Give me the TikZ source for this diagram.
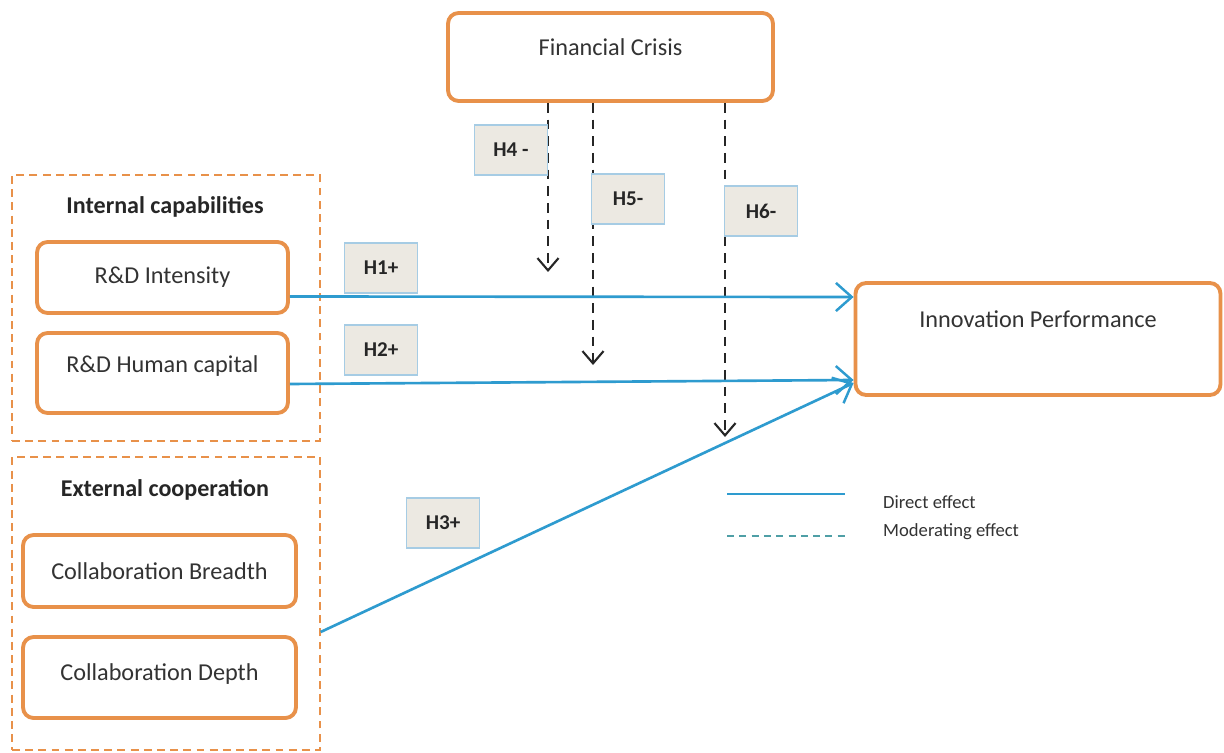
\documentclass[tikz,border=0pt]{standalone}
\usepackage{fontspec}
\setmainfont{Carlito}
\usetikzlibrary{arrows.meta,positioning}
\definecolor{boxorange}{HTML}{E8914A}
\definecolor{effblue}{HTML}{2E9BCF}
\definecolor{hgray}{HTML}{ECE9E2}
\definecolor{hblue}{HTML}{A6CCE4}
\definecolor{legteal}{HTML}{4F9FA6}
\tikzset{
    component/.style={
    rectangle,rounded corners=6pt,draw=boxorange,line width=2.2pt,
    font=\fontsize{13.8}{16}\selectfont,text=black!80
    },
    dcomponent/.style={
    rectangle,draw=boxorange,line width=0.8pt,dash pattern=on 4.5pt off 3pt
    },
    hbox/.style={
    rectangle,draw=hblue,fill=hgray,line width=0.8pt,
    minimum width=1.45cm,minimum height=1cm,font=\bfseries\fontsize{12}{14}\selectfont,text=black!85
    },
    heading/.style={
    font=\bfseries\fontsize{13.7}{16}\selectfont,text=black!85
    },
    direct/.style={
    draw=effblue,line width=1.5pt,-{Straight Barb[length=9pt,width=16pt,line width=1.4pt]}
    },
    moderate/.style={
    draw=black!85,line width=1.4pt,dash pattern=on 5.5pt off 4pt,
    -{Straight Barb[length=7pt,width=12pt,line width=1.2pt]}
    },
    legtext/.style={
    anchor=west,font=\fontsize{10.6}{12}\selectfont,text=black!80
    },
}
\begin{document}
\begin{tikzpicture}[x=0.02cm,y=-0.02cm]
   \useasboundingbox[fill=white] (0,0) rectangle (1224,753);

   % groups
   \node[dcomponent,minimum width=6.16cm,minimum height=5.32cm] (IC) at (166,308) {};
   \node[dcomponent,minimum width=6.16cm,minimum height=5.86cm] (EC) at (166,603.5) {};
   \node[heading] (ICt) at (165,207) {Internal capabilities};
   \node[heading] (ECt) at (165,490) {External cooperation};

   % constructs
   \node[component,minimum width=5.02cm,minimum height=1.42cm] (RDI) at (162.5,277.5) {R\&D Intensity};
   \node[component,minimum width=5.02cm,minimum height=1.6cm,text depth=0.35cm] (RDH) at (162.5,373) {R\&D Human capital};
   \node[component,minimum width=5.46cm,minimum height=1.44cm] (CB) at (159.5,571) {Collaboration Breadth};
   \node[component,minimum width=5.46cm,minimum height=1.62cm,text depth=0.2cm] (CD) at (159.5,677.5) {Collaboration Depth};
   \node[component,minimum width=6.5cm,minimum height=1.76cm,text depth=0.4cm] (FC) at (610.5,57) {Financial Crisis};
   \node[component,minimum width=7.3cm,minimum height=2.24cm,text depth=0.8cm] (IP) at (1038,339) {Innovation Performance};

   % moderating ends
   \coordinate (m4) at (548,272);
   \coordinate (m5) at (593,365);
   \coordinate (m6) at (725,437);

   \draw[moderate] (FC.south -| m4) -- (m4);
   \draw[moderate] (FC.south -| m5) -- (m5);
   \draw[moderate] (FC.south -| m6) -- (m6);

   \draw[direct] ([yshift=-0.38cm]RDI.east) -- ([yshift=0.84cm]IP.west);
   \draw[direct] ([yshift=-0.22cm]RDH.east) -- ([yshift=-0.82cm]IP.west);
   \draw[direct] ([yshift=-0.57cm]EC.east) -- ([yshift=-0.88cm]IP.west);

   % hypotheses
   \node[hbox] (H4) at (511,150) {H4 -};
   \node[hbox] (H5) at (628,199) {H5-};
   \node[hbox] (H6) at (761,211) {H6-};
   \node[hbox] (H1) at (381,268) {H1+};
   \node[hbox] (H2) at (381,350) {H2+};
   \node[hbox] (H3) at (443,523) {H3+};

   % legend
   \coordinate (l1a) at (727,494);
   \coordinate (l1b) at (845,494);
   \coordinate (l2a) at (727,536);
   \coordinate (l2b) at (845,536);
   \draw[effblue,line width=1.2pt] (l1a) -- (l1b);
   \draw[legteal,line width=1.2pt,dash pattern=on 4pt off 3pt] (l2a) -- (l2b);
   \node[legtext] (L1) at (877,502) {Direct effect};
   \node[legtext] (L2) at (877,532) {Moderating effect};
\end{tikzpicture}
\end{document}
